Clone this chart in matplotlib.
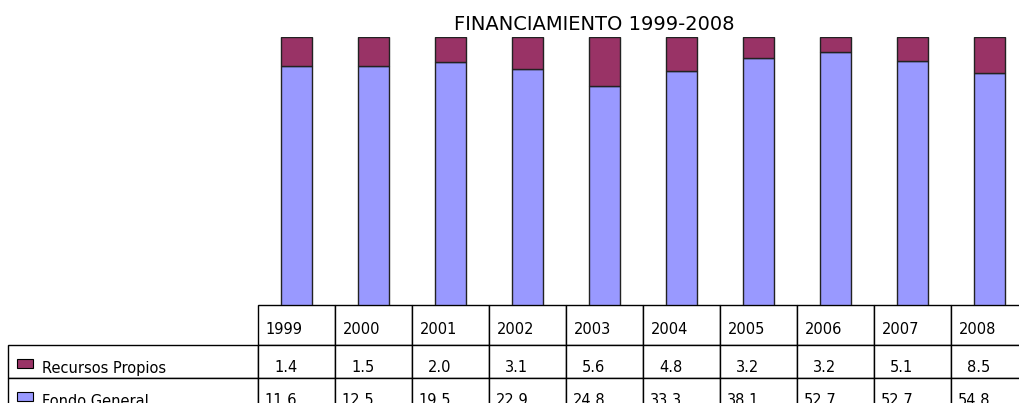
import matplotlib
matplotlib.use("Agg")
import matplotlib.pyplot as plt
from matplotlib.table import Table
from matplotlib.patches import Rectangle
from matplotlib.transforms import Affine2D
import numpy as np

# Data
years = ["1999", "2000", "2001", "2002", "2003", "2004", "2005", "2006", "2007", "2008"]
recursos_propios = [1.4, 1.5, 2.0, 3.1, 5.6, 4.8, 3.2, 3.2, 5.1, 8.5]
fondo_general = [11.6, 12.5, 19.5, 22.9, 24.8, 33.3, 38.1, 52.7, 52.7, 54.8]

color_fg = "#9999FF"
color_rp = "#993366"

# 100% stacked shares
rp = np.array(recursos_propios)
fg = np.array(fondo_general)
total = rp + fg
fg_pct = fg / total * 100
rp_pct = rp / total * 100

W, H = 1019, 403
AX_W, AX_H = 770, 268
fig = plt.figure(figsize=(W / 100, H / 100), dpi=100)
ax = fig.add_axes([258 / W, 98 / H, AX_W / W, AX_H / H])

x = np.arange(len(years))
ax.bar(x, fg_pct, width=0.4, color=color_fg, edgecolor="#222222", linewidth=1.0)
ax.bar(x, rp_pct, bottom=fg_pct, width=0.4, color=color_rp, edgecolor="#222222", linewidth=1.0)
ax.set_xlim(-0.5, len(years) - 0.5)
ax.set_ylim(0, 100)
for s in ax.spines.values():
    s.set_visible(False)
ax.set_xticks([])
ax.set_yticks([])

# Data table under the bars (sizes in pixels -> axes fraction)
col_w, lab_w, head_h, row_h = 77 / AX_W, 250 / AX_W, 40 / AX_H, 33 / AX_H
tot_w = lab_w + col_w * len(years)
tot_h = head_h + 2 * row_h
tb = Table(ax, bbox=[-lab_w, -tot_h, tot_w, tot_h])
for j, yr in enumerate(years, start=1):
    c = tb.add_cell(0, j, col_w, head_h, text=yr, loc="left")
    c.get_text().set_transform(Affine2D().translate(0, -5))
rows = [("Recursos Propios", recursos_propios), ("Fondo General", fondo_general)]
for i, (name, vals) in enumerate(rows, start=1):
    c = tb.add_cell(i, 0, lab_w, row_h, text=name, loc="left")
    c.PAD = 34 / 250
    c.get_text().set_transform(Affine2D().translate(0, -7))
    for j, v in enumerate(vals, start=1):
        c = tb.add_cell(i, j, col_w, row_h, text=f"{v:.1f}", loc="right")
        c.PAD = 0.49
        c.get_text().set_transform(Affine2D().translate(0, -6))
tb.auto_set_font_size(False)
tb.set_fontsize(10.5)
ax.add_table(tb)

# legend swatches in the row labels
for ytop, col in [(359, color_rp), (392, color_fg)]:
    fig.patches.append(Rectangle((17 / W, 1 - (ytop + 9) / H), 16 / W, 9 / H,
                                 transform=fig.transFigure, facecolor=col,
                                 edgecolor="black", linewidth=0.8))

fig.text(594 / W, 1 - 30 / H, "FINANCIAMIENTO 1999-2008", ha="center", va="baseline", fontsize=14)

fig.savefig("out.png", dpi=100)
